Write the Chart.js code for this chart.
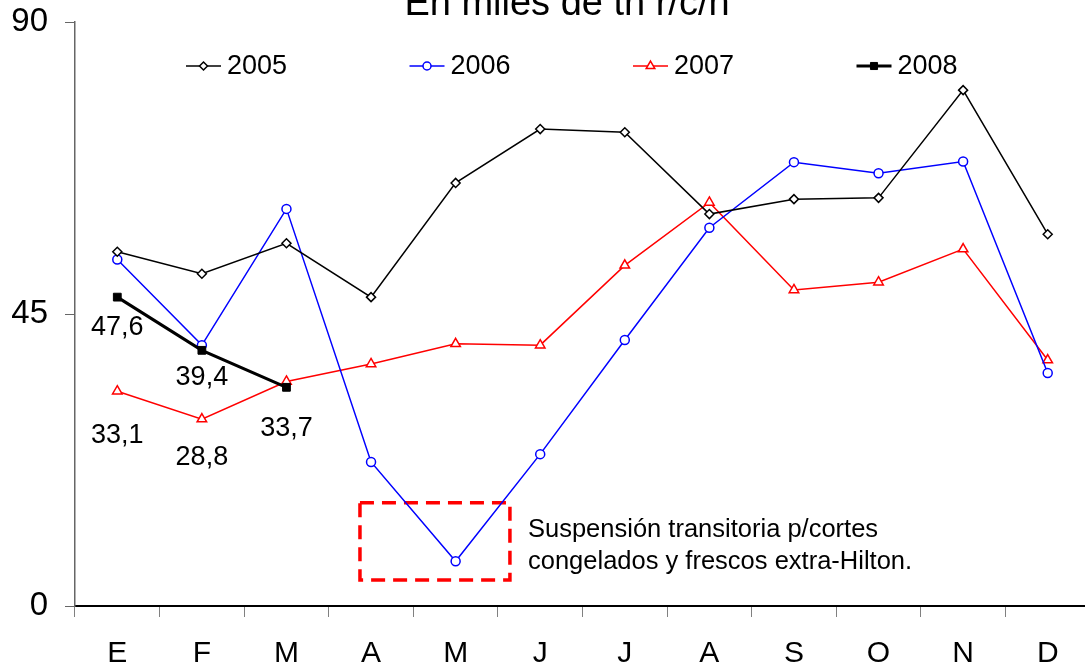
<!DOCTYPE html>
<html>
<head>
<meta charset="utf-8">
<script src="https://cdn.jsdelivr.net/npm/chart.js@4.4.1/dist/chart.umd.min.js"></script>
<style>
  html, body { margin: 0; padding: 0; background: #fff; overflow: hidden; }
  #wrap { width: 1085px; height: 671px; overflow: hidden; }
</style>
</head>
<body>
<div id="wrap"><canvas id="grafico" width="1090" height="671"></canvas></div>
<script>
// datos
const meses = ['E', 'F', 'M', 'A', 'M', 'J', 'J', 'A', 'S', 'O', 'N', 'D'];
const serie2005 = [54.6, 51.2, 55.9, 47.6, 65.2, 73.5, 73.0, 60.4, 62.7, 62.9, 79.5, 57.3];
const serie2006 = [53.4, 40.2, 61.2, 22.2, 6.9, 23.4, 41.0, 58.3, 68.4, 66.7, 68.5, 35.9];
const serie2007 = [33.1, 28.8, 34.6, 37.3, 40.4, 40.2, 52.5, 62.2, 48.7, 49.9, 55.0, 37.9];
const serie2008 = [47.6, 39.4, 33.7, null, null, null, null, null, null, null, null, null];
const yTicks = [0, 45, 90];
const titulo = 'En miles de tn r/c/h';
const nota = ['Suspensión transitoria p/cortes', 'congelados y frescos extra-Hilton.'];

const FUENTE = '"Liberation Sans", Arial, sans-serif';

// etiquetas de valor (serie, indice, desplazamiento vertical)
const etiquetas = [
    { ds: 3, i: 0, dy: 30 },
    { ds: 3, i: 1, dy: 27 },
    { ds: 3, i: 2, dy: 41 },
    { ds: 2, i: 0, dy: 44 },
    { ds: 2, i: 1, dy: 38 }
];

const pluginExtras = {
    id: 'extras',
    beforeDatasetsDraw(chart) {
        // recuadro rojo punteado
        const ctx = chart.ctx;
        const x = chart.scales.x, y = chart.scales.y;
        const x1 = x.getPixelForValue(2.869), x2 = x.getPixelForValue(4.642);
        const y1 = y.getPixelForValue(15.9), y2 = y.getPixelForValue(4.0);
        ctx.save();
        ctx.strokeStyle = '#ff0000';
        ctx.lineWidth = 3.5;
        ctx.setLineDash([14, 8]);
        ctx.strokeRect(x1, y1, x2 - x1, y2 - y1);
        ctx.restore();
    },
    afterDraw(chart) {
        const ctx = chart.ctx;
        ctx.save();
        ctx.fillStyle = '#000';

        // titulo (cortado arriba como en el original)
        ctx.font = '38px ' + FUENTE;
        ctx.textAlign = 'center';
        ctx.textBaseline = 'alphabetic';
        ctx.fillText(titulo, 567, 15);

        // nota
        ctx.font = '25.5px ' + FUENTE;
        ctx.textAlign = 'left';
        ctx.textBaseline = 'middle';
        ctx.fillText(nota[0], 528, 530);
        ctx.fillText(nota[1], 528, 562);

        // etiquetas de valor
        ctx.font = '27px ' + FUENTE;
        ctx.textAlign = 'center';
        etiquetas.forEach(e => {
            const pt = chart.getDatasetMeta(e.ds).data[e.i];
            const v = chart.data.datasets[e.ds].data[e.i];
            ctx.fillText(v.toFixed(1).replace('.', ','), pt.x, pt.y + e.dy);
        });

        // leyenda
        chart.data.datasets.forEach((ds, k) => {
            const x0 = 186 + k * 223.5, yl = 66;
            ctx.strokeStyle = ds.borderColor;
            ctx.lineWidth = ds.borderWidth;
            ctx.setLineDash([]);
            ctx.beginPath();
            ctx.moveTo(x0, yl);
            ctx.lineTo(x0 + 35, yl);
            ctx.stroke();
            ctx.fillStyle = ds.pointBackgroundColor;
            ctx.strokeStyle = ds.pointBorderColor;
            ctx.lineWidth = ds.pointBorderWidth;
            Chart.helpers.drawPoint(ctx, {
                pointStyle: ds.pointStyle, radius: ds.pointRadius - 0.5,
                borderWidth: ds.pointBorderWidth, rotation: 0
            }, x0 + 17.5, yl);
            ctx.fillStyle = '#000';
            ctx.font = '27px ' + FUENTE;
            ctx.textAlign = 'left';
            ctx.fillText(ds.label, x0 + 41, yl + 1);
        });
        ctx.restore();
    }
};

function sinRelleno(s) {
    s.paddingTop = 0; s.paddingBottom = 0;
    s.paddingLeft = 0; s.paddingRight = 0;
}

new Chart(document.getElementById('grafico'), {
    type: 'line',
    data: {
        labels: meses,
        datasets: [
            {
                label: '2005', data: serie2005,
                borderColor: '#000', borderWidth: 1.5,
                pointStyle: 'rectRot', pointRadius: 4.5,
                pointBackgroundColor: '#fff', pointBorderColor: '#000', pointBorderWidth: 1.5,
                order: 1
            },
            {
                label: '2006', data: serie2006,
                borderColor: '#0000ff', borderWidth: 1.5,
                pointStyle: 'circle', pointRadius: 4.5,
                pointBackgroundColor: '#fff', pointBorderColor: '#0000ff', pointBorderWidth: 1.5,
                order: 2
            },
            {
                label: '2007', data: serie2007,
                borderColor: '#ff0000', borderWidth: 1.5,
                pointStyle: 'triangle', pointRadius: 5.5,
                pointBackgroundColor: '#fff', pointBorderColor: '#ff0000', pointBorderWidth: 1.5,
                order: 3
            },
            {
                label: '2008', data: serie2008,
                borderColor: '#000', borderWidth: 3,
                pointStyle: 'rect', pointRadius: 5.5,
                pointBackgroundColor: '#000', pointBorderColor: '#000', pointBorderWidth: 1,
                order: 0
            }
        ]
    },
    options: {
        responsive: false,
        animation: false,
        layout: { autoPadding: false, padding: { top: 22, right: 0, left: 0, bottom: 0 } },
        plugins: {
            legend: { display: false },
            title: { display: false },
            tooltip: { enabled: false }
        },
        scales: {
            x: {
                offset: true,
                grid: { offset: true, drawOnChartArea: false, color: '#808080', lineWidth: 1, tickLength: 11 },
                border: { color: '#000', width: 2 },
                ticks: { color: '#000', font: { family: FUENTE, size: 30 }, padding: 19, maxRotation: 0, autoSkip: false },
                afterFit: s => { s.height = 65; sinRelleno(s); }
            },
            y: {
                min: 0, max: 90,
                afterBuildTicks: s => { s.ticks = yTicks.map(v => ({ value: v })); },
                grid: { drawOnChartArea: false, color: '#666', lineWidth: 1, tickLength: 10 },
                border: { color: '#666', width: 1.5 },
                ticks: { color: '#000', font: { family: FUENTE, size: 33 }, padding: 17 },
                afterFit: s => { s.width = 75; sinRelleno(s); }
            }
        }
    },
    plugins: [pluginExtras]
});
</script>
</body>
</html>
